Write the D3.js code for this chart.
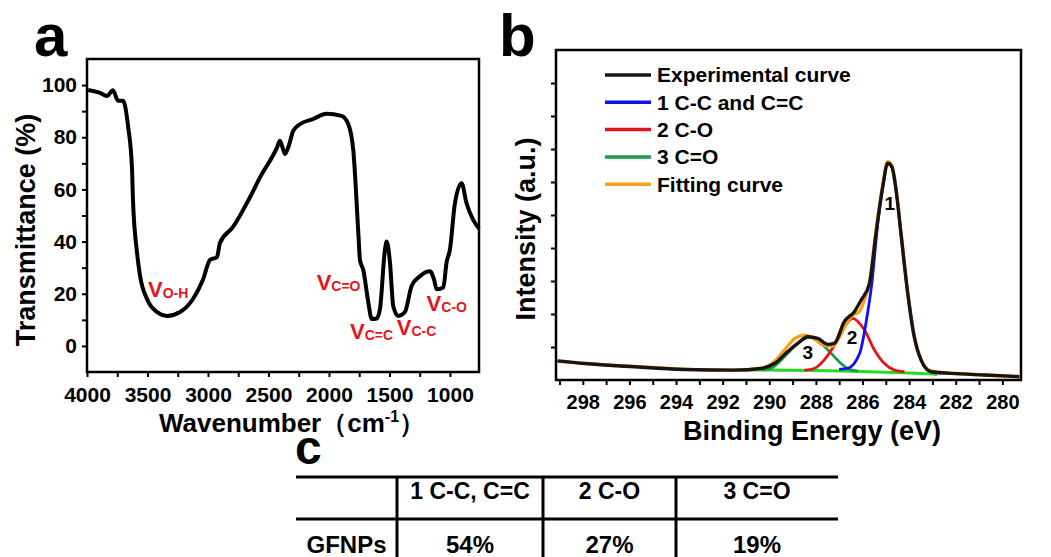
<!DOCTYPE html>
<html>
<head>
<meta charset="utf-8">
<title>FTIR and XPS C1s</title>
<style>
  body { margin: 0; background: #fff; }
  svg text { font-family: "Liberation Sans", Arial, sans-serif; font-weight: bold; fill: #000; }
  .axis .domain { display: none; }
  .axis line { stroke: #000; stroke-width: 2; }
</style>
</head>
<body>
<svg width="1051" height="557"></svg>
<script src="https://cdn.jsdelivr.net/npm/d3@7/dist/d3.min.js"></script>
<script>

// ---- panel a: FTIR spectrum ----
var ftirWave = [3990, 3893, 3835, 3785, 3744, 3702, 3660, 3628, 3620, 3587, 3562, 3504, 3421, 3339, 3231, 3124,
  3041, 2983, 2926, 2901, 2793, 2653, 2570, 2430, 2405, 2364, 2336, 2295, 2240, 2130, 2020, 1896, 1840, 1799,
  1757, 1744, 1716, 1675, 1647, 1606, 1579, 1537, 1523, 1496, 1469, 1428, 1372, 1317, 1248, 1165, 1132, 1110,
  1055, 1028, 1000, 959, 904, 863, 808, 760];
var ftirT = [98.1, 97, 95.8, 98, 94, 94, 84, 68, 56, 36, 27, 18, 13, 11.5, 13, 18,
  25.5, 33, 34, 39.5, 45.6, 57, 64.6, 76, 78.7, 73.6, 76.2, 82.5, 85, 87, 89, 88.2, 85, 75,
  43, 33, 29, 16.7, 10.3, 10.5, 14, 37, 40, 32, 15.3, 11.5, 13, 23, 26.7, 28.6, 25.5, 21.7,
  22.4, 32, 37, 54.7, 62.4, 54.7, 48.3, 45];
var ftirTicksX = [4000, 3500, 3000, 2500, 2000, 1500, 1000];
var ftirMinorX = [3750, 3250, 2750, 2250, 1750, 1250];
var ftirTicksY = [0, 20, 40, 60, 80, 100];
var ftirMinorY = [10, 30, 50, 70, 90];
// band labels: subscript, wavenumber, transmittance of label anchor
var bandSub = ["O-H", "C=O", "C=C", "C-C", "C-O"];
var bandWave = [3496, 2102, 1826, 1440, 1193];
var bandT = [18.6, 21.5, 2.5, 4.0, 13.5];

// ---- panel b: XPS C1s ----
var expBE = [299.08, 297.94, 295.79, 293.64, 291.5, 290.36, 289.78, 289.21, 288.78, 288.35, 287.92, 287.49, 287.21,
  286.78, 286.35, 286.06, 285.7, 285.42, 285.13, 284.92, 284.74, 284.56, 284.35, 284.06, 283.78, 283.49, 283.06,
  282.2, 280.77, 279.27];
var expI = [5.8, 5.0, 4.0, 3.2, 3.0, 3.5, 5.0, 8.6, 11.1, 13.1, 12.6, 10.8, 11.1,
  17.7, 20.7, 24.2, 29.3, 44.4, 58.6, 65.7, 64.6, 57.6, 44.4, 26.3, 13.1, 6.1, 2.5,
  2.0, 1.5, 1.0];
var fitBE = [299.1, 297, 295, 293, 291.5, 290.3, 289.8, 289.3, 288.9, 288.5, 288.1, 287.7, 287.3, 287.0, 286.7,
  286.4, 286.15, 285.95, 285.7, 285.42, 285.13, 284.92, 284.74, 284.56, 284.35, 284.06, 283.78, 283.49, 283.06,
  282, 280.5, 279.3];
var fitI = [5.6, 4.6, 3.8, 3.1, 3.0, 3.6, 5.5, 9.5, 12.6, 13.6, 12.6, 10.6, 10.2, 12.8, 17.0,
  19.8, 20.6, 23.5, 29.8, 45.5, 59.2, 66.2, 65.0, 57.8, 44.8, 26.8, 13.4, 6.3, 2.7,
  2.0, 1.5, 1.1];
var peak1BE = [287.0, 286.64, 286.12, 285.83, 285.6, 285.33, 285.13, 284.92, 284.74, 284.56, 284.35, 284.06, 283.78, 283.49, 283.06, 282.6];
var peak1I = [3.2, 3.5, 8.1, 18.2, 29.3, 48.5, 58.6, 65.7, 64.6, 57.6, 44.4, 26.3, 13.1, 6.1, 2.6, 2.1];
var peak2BE = [288.5, 288.07, 287.64, 287.2, 286.77, 286.42, 285.92, 285.49, 285.06, 284.63, 284.2];
var peak2I = [2.9, 3.5, 6.1, 10.6, 16.2, 18.7, 15.2, 9.1, 5.0, 3.0, 2.5];
var peak3BE = [290.3, 289.92, 289.64, 289.21, 288.78, 288.28, 287.78, 287.35, 286.92, 286.64, 286.2];
var peak3I = [3.0, 3.5, 5.0, 8.1, 11.1, 12.9, 11.1, 8.1, 5.0, 3.5, 2.7];
var baseBE = [291.5, 290, 288, 286, 284, 283, 282.8];
var baseI = [3.0, 3.0, 2.9, 2.6, 2.1, 1.8, 1.7];
var xpsTicksX = [298, 296, 294, 292, 290, 288, 286, 284, 282, 280];
var xpsMinorX = [299, 297, 295, 293, 291, 289, 287, 285, 283, 281];
var xpsTicksY = [10, 20, 30, 40, 50, 60, 70, 80, 90];
var legendNames = ["Experimental curve", "1 C-C and C=C", "2 C-O", "3 C=O", "Fitting curve"];
var legendColors = ["#1a1311", "#1010f5", "#e3141e", "#1c9a46", "#f5a21b"];
var peakLabels = ["1", "2", "3"];
var peakLabelBE = [284.83, 286.45, 288.35];
var peakLabelI = [53.6, 13.0, 8.3];

// ---- panel c: table ----
var tableHead = ["", "1 C-C, C=C", "2 C-O", "3 C=O"];
var tableRow = ["GFNPs", "54%", "27%", "19%"];

var svg = d3.select("svg");

function styleTicks(g, size) {
  g.selectAll("text").style("font-size", size + "px").attr("fill", "#000");
}

//==== Panel a
var pa = {left: 87, right: 479, top: 59, bottom: 372};
var xa = d3.scaleLinear().domain([4000, 760]).range([pa.left, pa.right]);
var ya = d3.scaleLinear().domain([-10, 110]).range([pa.bottom, pa.top]);

svg.append("g").attr("class", "axis").attr("transform", "translate(0," + pa.bottom + ")")
    .call(d3.axisBottom(xa).tickValues(ftirMinorX).tickSize(5).tickFormat(""));
svg.append("g").attr("class", "axis").attr("transform", "translate(0," + pa.bottom + ")")
    .call(d3.axisBottom(xa).tickValues(ftirTicksX).tickSize(5).tickPadding(10).tickFormat(d3.format("d")))
    .call(styleTicks, 21);
svg.append("g").attr("class", "axis").attr("transform", "translate(" + pa.left + ",0)")
    .call(d3.axisLeft(ya).tickValues(ftirMinorY).tickSize(5).tickFormat(""));
svg.append("g").attr("class", "axis").attr("transform", "translate(" + pa.left + ",0)")
    .call(d3.axisLeft(ya).tickValues(ftirTicksY).tickSize(5).tickPadding(5))
    .call(styleTicks, 21);

var ftirLine = d3.line()
    .x(function(d, i) { return xa(ftirWave[i]); })
    .y(function(d) { return ya(d); })
    .curve(d3.curveMonotoneX);

svg.append("path")
    .datum(ftirT)
    .attr("d", ftirLine)
    .attr("fill", "none")
    .attr("stroke", "#000")
    .attr("stroke-width", 4)
    .attr("stroke-linejoin", "round");

svg.append("rect")
    .attr("x", pa.left).attr("y", pa.top)
    .attr("width", pa.right - pa.left).attr("height", pa.bottom - pa.top)
    .attr("fill", "none").attr("stroke", "#000").attr("stroke-width", 2.5);

// red band labels
var bands = svg.append("g").selectAll("text")
    .data(bandSub)
    .enter().append("text")
    .attr("x", function(d, i) { return xa(bandWave[i]); })
    .attr("y", function(d, i) { return ya(bandT[i]); })
    .style("fill", "#e8141c")
    .style("font-size", "22px");
bands.append("tspan").text("V");
bands.append("tspan").attr("dy", 1).style("font-size", "14px").style("fill", "#e8141c").text(function(d) { return d; });

svg.append("text")
    .attr("transform", "translate(35,230) rotate(-90)")
    .attr("text-anchor", "middle")
    .style("font-size", "27px")
    .text("Transmittance (%)");

var wn = svg.append("text")
    .attr("x", 292).attr("y", 432)
    .attr("text-anchor", "middle")
    .style("font-size", "26px");
wn.append("tspan").text("Wavenumber（cm");
wn.append("tspan").attr("dy", -10).style("font-size", "16px").text("-1");
wn.append("tspan").attr("dy", 10).text("）");

svg.append("text").attr("x", 34).attr("y", 56).style("font-size", "60px").text("a");

//==== Panel b
var pb = {left: 556, right: 1021, top: 50, bottom: 380};
var xb = d3.scaleLinear().domain([299.15, 279.2]).range([pb.left, pb.right]);
var yb = d3.scaleLinear().domain([0, 100]).range([pb.bottom, pb.top]);

svg.append("g").attr("class", "axis").attr("transform", "translate(0," + pb.bottom + ")")
    .call(d3.axisBottom(xb).tickValues(xpsMinorX).tickSize(5).tickFormat(""));
svg.append("g").attr("class", "axis").attr("transform", "translate(0," + pb.bottom + ")")
    .call(d3.axisBottom(xb).tickValues(xpsTicksX).tickSize(5).tickPadding(10).tickFormat(d3.format("d")))
    .call(styleTicks, 20);
svg.append("g").attr("class", "axis").attr("transform", "translate(" + pb.left + ",0)")
    .call(d3.axisLeft(yb).tickValues(xpsTicksY).tickSize(5).tickFormat(""));

function xpsLine(be) {
  return d3.line()
    .x(function(d, i) { return xb(be[i]); })
    .y(function(d) { return yb(d); })
    .curve(d3.curveMonotoneX);
}

var curves = [
  {be: baseBE, val: baseI, color: "#22dd22", w: 3},
  {be: peak3BE, val: peak3I, color: legendColors[3], w: 2.8},
  {be: peak2BE, val: peak2I, color: legendColors[2], w: 2.8},
  {be: peak1BE, val: peak1I, color: legendColors[1], w: 2.8},
  {be: fitBE, val: fitI, color: legendColors[4], w: 3.2},
  {be: expBE, val: expI, color: legendColors[0], w: 3.4}
];

svg.append("g").selectAll("path")
    .data(curves)
    .enter().append("path")
    .attr("d", function(d) { return xpsLine(d.be)(d.val); })
    .attr("fill", "none")
    .attr("stroke", function(d) { return d.color; })
    .attr("stroke-width", function(d) { return d.w; })
    .attr("stroke-linejoin", "round");

svg.append("g").selectAll("text")
    .data(peakLabels)
    .enter().append("text")
    .attr("x", function(d, i) { return xb(peakLabelBE[i]); })
    .attr("y", function(d, i) { return yb(peakLabelI[i]); })
    .attr("text-anchor", "middle")
    .attr("dy", "0.35em")
    .style("font-size", "19px")
    .text(function(d) { return d; });

svg.append("rect")
    .attr("x", pb.left).attr("y", pb.top)
    .attr("width", pb.right - pb.left).attr("height", pb.bottom - pb.top)
    .attr("fill", "none").attr("stroke", "#000").attr("stroke-width", 2.5);

var legend = svg.append("g").selectAll("g")
    .data(legendNames)
    .enter().append("g")
    .attr("transform", function(d, i) { return "translate(605," + (75 + i * 27.3) + ")"; });
legend.append("line")
    .attr("x1", 0).attr("x2", 46)
    .attr("stroke", function(d, i) { return legendColors[i]; })
    .attr("stroke-width", 3.5);
legend.append("text")
    .attr("x", 52).attr("dy", "0.35em")
    .style("font-size", "21px")
    .text(function(d) { return d; });

svg.append("text")
    .attr("transform", "translate(535,229) rotate(-90)")
    .attr("text-anchor", "middle")
    .style("font-size", "27px")
    .text("Intensity (a.u.)");

svg.append("text")
    .attr("x", 812).attr("y", 440)
    .attr("text-anchor", "middle")
    .style("font-size", "27px")
    .text("Binding Energy (eV)");

svg.append("text").attr("x", 499).attr("y", 56).style("font-size", "60px").text("b");

//==== Panel c
var colX = [296, 397, 543, 676, 838];
var tbl = svg.append("g");
tbl.append("text").attr("x", 295).attr("y", 464).style("font-size", "48px").text("c");
[477, 519].forEach(function(y) {
  tbl.append("line").attr("x1", colX[0]).attr("x2", colX[4]).attr("y1", y).attr("y2", y)
     .attr("stroke", "#000").attr("stroke-width", 3);
});
colX.slice(1, 4).forEach(function(x) {
  tbl.append("line").attr("x1", x).attr("x2", x).attr("y1", 477).attr("y2", 557)
     .attr("stroke", "#000").attr("stroke-width", 3);
});
tbl.selectAll(".head").data(tableHead).enter().append("text")
    .attr("class", "head")
    .attr("x", function(d, i) { return (colX[i] + colX[i + 1]) / 2; })
    .attr("y", 499)
    .attr("text-anchor", "middle")
    .style("font-size", "23px")
    .text(function(d) { return d; });
tbl.selectAll(".row").data(tableRow).enter().append("text")
    .attr("class", "row")
    .attr("x", function(d, i) { return (colX[i] + colX[i + 1]) / 2; })
    .attr("y", 553)
    .attr("text-anchor", "middle")
    .style("font-size", "24px")
    .text(function(d) { return d; });

</script>
</body>
</html>
